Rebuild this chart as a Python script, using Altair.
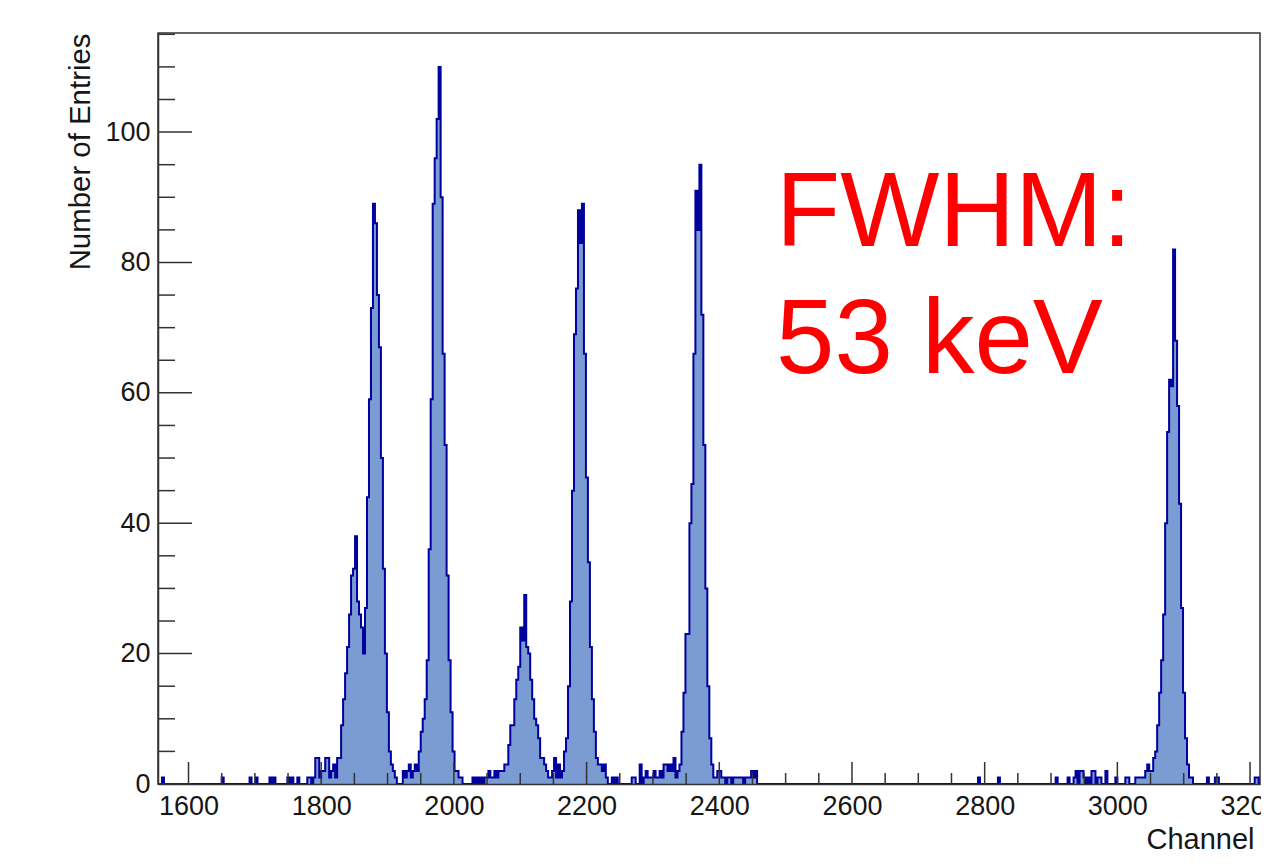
import altair as alt
import pandas as pd

# ---------------- data (entries per 3-channel bin) ----------------
BIN = 3
X_MIN, X_MAX = 1554, 3215
Y_MAX = 115.2

# isolated single-bin background entries
spike_channels = [1560, 1650, 1692, 1701, 1722, 1728, 1749, 1755, 1764,
                  2790, 2820, 2907, 2925, 2934, 2937, 2943, 2946, 2949, 2955,
                  2961, 2964, 2970, 2973, 2982, 2997, 3012, 3015,
                  3135, 3147, 3150, 3207, 3210]
spike_counts = [1, 1, 1, 1, 1, 1, 1, 1, 1,
                1, 1, 1, 1, 1, 2, 2, 2, 1, 1,
                2, 2, 1, 1, 2, 1, 1, 1,
                1, 1, 1, 1, 1]

# double peak (~1851 / ~1878) and peak at ~1978
cluster1_start = 1779
cluster1_counts = [1, 1, 0, 1, 4, 4, 1, 2, 2, 4, 4, 1, 2, 3, 1, 4, 4,
                   9, 13, 17, 21, 26, 32, 33, 38, 28, 26, 24, 20, 27, 44, 59, 73,
                   89, 86, 75, 67, 50, 33, 20, 11, 5, 3, 2, 1, 0, 0, 0,
                   2, 1, 2, 3, 1, 2, 3, 2,
                   5, 8, 10, 13, 19, 36, 59, 89, 96, 102, 110, 90, 66, 52, 32,
                   19, 11, 5, 2, 2, 1, 1]

# peaks at ~2106 and ~2194
cluster2_start = 2028
cluster2_counts = [1, 0, 1, 0, 1, 0, 1, 1, 2, 1, 1, 2, 1, 2,
                   2, 2, 3, 3, 6, 9, 9, 13, 16, 18, 24, 22, 29, 21, 20, 16, 13,
                   10, 9, 7, 4, 4, 3, 2, 1, 1, 2, 4, 1, 3, 1, 2,
                   5, 7, 15, 28, 45, 69, 76, 88, 83, 89, 66, 47, 34, 21, 13, 8,
                   4, 3, 3, 2, 3, 1, 0, 0, 1, 0, 1]

# peak at ~2370
cluster3_start = 2268
cluster3_counts = [1, 1, 0, 0, 3, 0, 1, 2, 1, 1, 1, 2, 1, 1, 2, 1, 3, 3,
                   2, 3, 2, 4, 1, 2, 3,
                   8, 14, 23, 23, 40, 46, 66, 91, 85, 95, 72, 52, 30, 15, 7, 3,
                   1, 1, 2, 2, 1, 1, 0, 1, 1, 0, 1, 1, 1, 1, 1, 0, 1, 1, 1, 2,
                   1, 2]

# peak at ~3084
cluster4_start = 3027
cluster4_counts = [1, 1, 1, 1, 1, 2, 3, 2, 2, 4, 5, 9, 14, 19, 26, 40, 54,
                   62, 61, 82, 68, 58, 43, 27, 14, 7, 3, 1, 1]

x_major_ticks = list(range(1600, 3201, 200))
x_minor_ticks = [v for v in range(1600, 3201, 50) if v % 200 != 0]
y_major_ticks = list(range(0, 101, 20))
y_minor_ticks = [v for v in range(0, 116, 5) if v % 20 != 0]
y_label_values = [0, 20, 40, 60, 80, 100]

annotation_lines = ["FWHM:", "53 keV"]

# ---------------- build the binned series ----------------
counts = {}
for ch, n in zip(spike_channels, spike_counts):
    counts[ch] = counts.get(ch, 0) + n
for start, vals in [(cluster1_start, cluster1_counts), (cluster2_start, cluster2_counts),
                    (cluster3_start, cluster3_counts), (cluster4_start, cluster4_counts)]:
    for i, n in enumerate(vals):
        ch = start + i * BIN
        counts[ch] = counts.get(ch, 0) + n

edges = list(range(X_MIN, X_MAX + BIN, BIN))
hist = pd.DataFrame({"ch": edges, "n": [counts.get(e, 0) for e in edges]})

# ---------------- styling ----------------
W, H = 1102, 751
FILL = "#7b9bd3"
LINE = "#00009c"
TICK = "#333333"
TXT = "#161616"
FONT = "Liberation Sans"

xscale = alt.Scale(domain=[X_MIN, X_MAX], nice=False, zero=False)
yscale = alt.Scale(domain=[0, Y_MAX], nice=False)

xaxis = alt.Axis(values=x_major_ticks, format="d", labelFont=FONT, labelFontSize=27,
                 labelColor=TXT, labelPadding=9, ticks=False, tickSize=0, grid=False,
                 domain=True, domainColor=TICK, domainWidth=1.5, labelFlush=False,
                 labelOverlap=False, title="Channel", titleFont=FONT, titleFontSize=29,
                 titleFontWeight="normal", titleColor=TXT, titleAlign="left",
                 titleAnchor="start", titleBaseline="alphabetic", titleX=988, titleY=64,
                 zindex=1)
yaxis = alt.Axis(values=y_label_values, format="d", labelFont=FONT, labelFontSize=27,
                 labelColor=TXT, labelPadding=8, ticks=False, tickSize=0, grid=False,
                 domain=True, domainColor=TICK, domainWidth=1.5, labelFlush=False,
                 labelOverlap=False, title="Number of Entries", titleFont=FONT,
                 titleFontSize=29.4, titleFontWeight="normal", titleColor=TXT,
                 titleAngle=270, titleAlign="right", titleAnchor="end",
                 titleBaseline="alphabetic", titleX=-69, titleY=0, zindex=1)

area = alt.Chart(hist).mark_area(interpolate="step-after", color=FILL, clip=True).encode(
    x=alt.X("ch:Q", scale=xscale, axis=xaxis),
    y=alt.Y("n:Q", scale=yscale, axis=yaxis),
)
outline = alt.Chart(hist).mark_line(interpolate="step-after", color=LINE, strokeWidth=2,
                                    clip=True).encode(
    x=alt.X("ch:Q", scale=xscale),
    y=alt.Y("n:Q", scale=yscale),
)

xmaj = alt.Chart(pd.DataFrame({"ch": x_major_ticks})).mark_rule(color=TICK, strokeWidth=1.5).encode(
    x=alt.X("ch:Q", scale=xscale), y=alt.value(H), y2=alt.value(H - 22))
xmin = alt.Chart(pd.DataFrame({"ch": x_minor_ticks})).mark_rule(color=TICK, strokeWidth=1.5).encode(
    x=alt.X("ch:Q", scale=xscale), y=alt.value(H), y2=alt.value(H - 11))
ymaj = alt.Chart(pd.DataFrame({"n": y_major_ticks})).mark_rule(color=TICK, strokeWidth=1.5).encode(
    y=alt.Y("n:Q", scale=yscale), x=alt.value(0), x2=alt.value(34))
ymin = alt.Chart(pd.DataFrame({"n": y_minor_ticks})).mark_rule(color=TICK, strokeWidth=1.5).encode(
    y=alt.Y("n:Q", scale=yscale), x=alt.value(0), x2=alt.value(17))

note = alt.Chart(pd.DataFrame({"label": ["\n".join(annotation_lines)]})).mark_text(
    font=FONT, fontSize=105, color="#ff0000", align="left", baseline="alphabetic",
    lineBreak="\n", lineHeight=127,
).encode(
    x=alt.X(datum=2485.5, type="quantitative", scale=xscale),
    y=alt.Y(datum=82.6, type="quantitative", scale=yscale),
    text="label:N",
)

chart = alt.layer(area, outline, xmin, xmaj, ymin, ymaj, note).properties(
    width=W, height=H,
    padding={"left": 150, "top": 25, "right": 1, "bottom": 72},
    autosize=alt.AutoSizeParams(type="none"),
    background="white",
).configure_view(stroke=TICK, strokeWidth=1.5)

chart.save("out.html", embed_options={"renderer": "svg", "actions": False})
